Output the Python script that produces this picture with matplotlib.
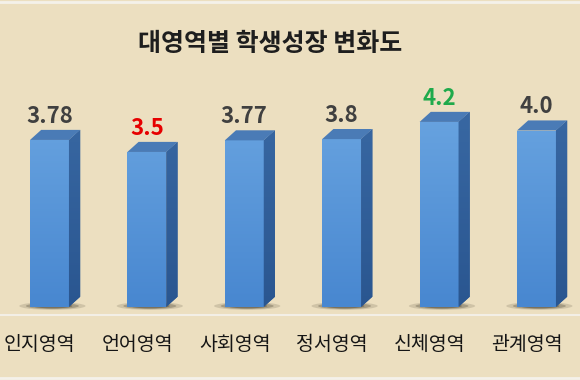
import matplotlib
matplotlib.use("Agg")
import matplotlib.pyplot as plt
import numpy as np
from matplotlib.patches import Polygon, Ellipse

plt.rcParams['font.family'] = ['Noto Sans CJK KR', 'DejaVu Sans']

# data
categories = ["인지영역", "언어영역", "사회영역", "정서영역", "신체영역", "관계영역"]
values = [3.78, 3.5, 3.77, 3.8, 4.2, 4.0]
value_labels = ["3.78", "3.5", "3.77", "3.8", "4.2", "4.0"]
label_colors = ["#404040", "#E60000", "#404040", "#404040", "#1FAA4B", "#404040"]
title = "대영역별 학생성장 변화도"

# 3d look
floor = -0.11
bar_w = 0.40
dx, dy = 0.115, 0.235
bg = "#ECDFC0"

fig = plt.figure(figsize=(5.8, 3.8), dpi=100)
fig.patch.set_facecolor(bg)
ax = fig.add_axes([0, 65 / 380, 1, 315 / 380])
ax.set_facecolor(bg)
ax.set_xlim(-0.508, 5.447)
ax.set_ylim(-0.30, 7.042)

x = np.arange(len(values))

# soft shadow under each bar
for xi in x:
    for k, a in zip([1.0, 0.8, 0.6], [0.15, 0.25, 0.35]):
        ax.add_patch(Ellipse((xi + 0.03, floor + 0.02), (bar_w + 0.28) * k, 0.18 * k,
                             color="#2A2418", alpha=a, lw=0, zorder=1))

bars = ax.bar(x, [v - floor for v in values], bar_w, bottom=floor,
              color="#5B9BD9", edgecolor="none", zorder=3)

# vertical gradient on front faces
grad = np.linspace(0, 1, 256).reshape(-1, 1)
front_cmap = matplotlib.colors.LinearSegmentedColormap.from_list("f", ["#4887D0", "#6CA7E2"])
side_cmap = matplotlib.colors.LinearSegmentedColormap.from_list("s", ["#2A5690", "#3A6AA5"])
for b, v in zip(bars, values):
    im = ax.imshow(grad, aspect="auto", cmap=front_cmap, origin="lower",
                   extent=[ax.get_xlim()[0], ax.get_xlim()[1], floor, 5], zorder=4)
    im.set_clip_path(b)
    x0 = b.get_x()
    x1 = x0 + b.get_width()
    side = Polygon([[x1, floor], [x1 + dx, floor + dy], [x1 + dx, v + dy], [x1, v]],
                   closed=True, facecolor="#33609A", edgecolor="none", zorder=3)
    ax.add_patch(side)
    im2 = ax.imshow(grad, aspect="auto", cmap=side_cmap, origin="lower",
                    extent=[ax.get_xlim()[0], ax.get_xlim()[1], floor, 5], zorder=4)
    im2.set_clip_path(side)
    top = Polygon([[x0, v], [x0 + dx, v + dy], [x1 + dx, v + dy], [x1, v]],
                  closed=True, facecolor="#4A7BB6", edgecolor="none", zorder=5)
    ax.add_patch(top)

for xi, v, lab, c in zip(x, values, value_labels, label_colors):
    ax.annotate(lab, (xi, v + dy), xytext=(0, 1.5), textcoords="offset points",
                ha="center", va="bottom", fontsize=16, fontweight="bold", color=c, zorder=6)

ax.set_xticks(x - 0.1)
ax.set_xticklabels(categories, fontsize=14, fontweight="medium", color="#151515")
ax.tick_params(axis="x", length=0, pad=14)
ax.set_yticks([])
for s in ["top", "left", "right"]:
    ax.spines[s].set_visible(False)
ax.spines["bottom"].set_color("#F3EFE6")
ax.spines["bottom"].set_linewidth(1.5)

fig.text(0.466, 1 - 44 / 380, title, ha="center", va="center",
         fontsize=18, fontweight="bold", color="#1E1E1E")

# light frame strips
fig.add_artist(plt.Line2D([0, 1], [0.996, 0.996], color="#F4F1EA", lw=2))
fig.add_artist(plt.Line2D([0, 1], [0.004, 0.004], color="#F4F1EA", lw=2))

fig.savefig("out.png", dpi=100, facecolor=bg)
